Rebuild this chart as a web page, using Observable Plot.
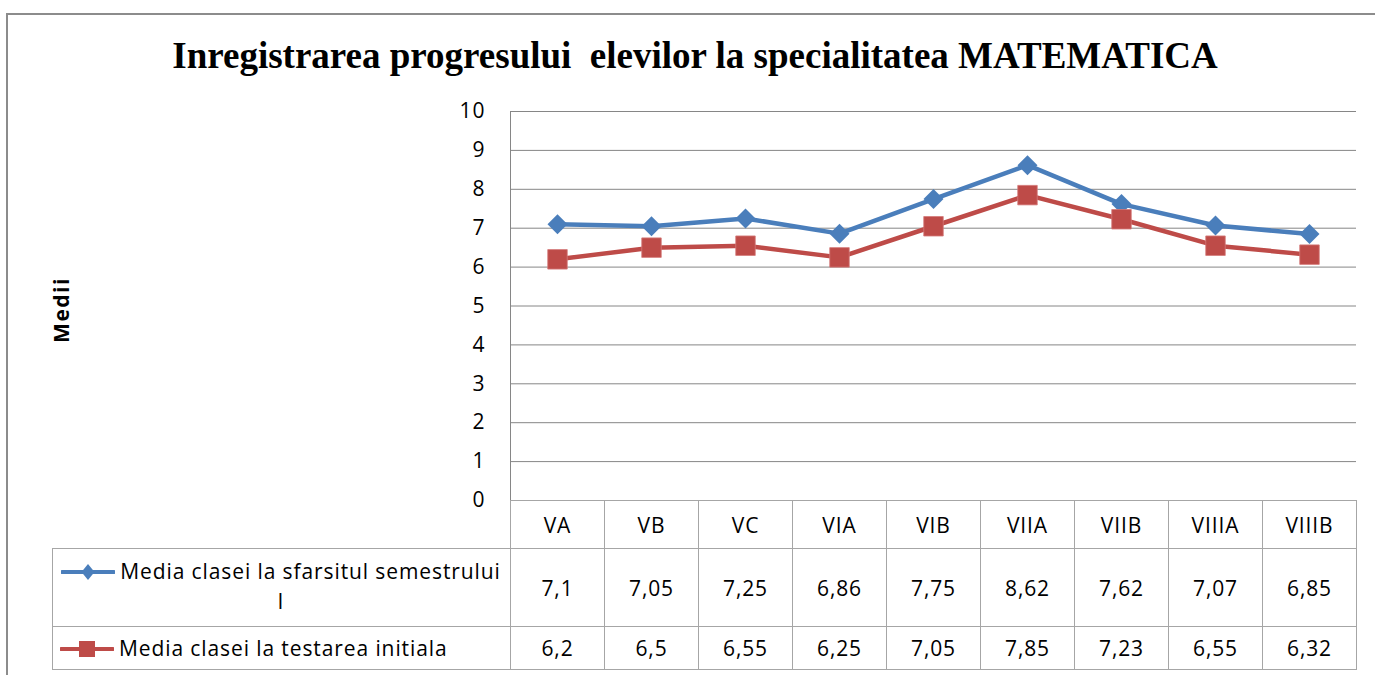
<!DOCTYPE html>
<html>
<head>
<meta charset="utf-8">
<script src="https://cdn.jsdelivr.net/npm/d3@7"></script>
<script src="https://cdn.jsdelivr.net/npm/@observablehq/plot@0.6"></script>
<style>
  html, body { margin: 0; padding: 0; background: #fff; }
  #wrap { position: relative; width: 1375px; height: 675px; overflow: hidden; background: #fff; font-family: "Open Sans", sans-serif; color: #000; }
  #frame { position: absolute; left: 6px; top: 13px; width: 1500px; height: 800px; border-left: 2px solid #8c8c8c; border-top: 2px solid #8c8c8c; }
  #title { position: absolute; left: 0; width: 1390px; top: 34px; text-align: center; font-family: "Liberation Serif", "Times New Roman", serif; font-weight: bold; font-size: 37px; line-height: 44px; white-space: pre; }
  #ylabel { position: absolute; left: 61px; top: 310px; transform: translate(-50%, -50%) rotate(-90deg); font-weight: bold; font-size: 21px; letter-spacing: 1.5px; white-space: nowrap; }
  #plot { position: absolute; left: 0; top: 0; }
  .cell { position: absolute; box-sizing: border-box; border: 1px solid #a6a6a6; display: flex; align-items: center; justify-content: center; font-size: 21px; letter-spacing: 0.9px; line-height: 24px; }
  .legcell { justify-content: flex-start; padding-left: 7px; }
  .legcell.wrap { justify-content: center; text-align: center; line-height: 30px; padding-left: 7px; padding-right: 8px; padding-bottom: 3px; }
  .legcell svg { vertical-align: -3px; margin-right: 5px; }
</style>
</head>
<body>
<div id="wrap">
  <div id="frame"></div>
  <div id="title"></div>
  <div id="ylabel"></div>
  <div id="plot"></div>
</div>
<script>
// ---- data ----
const titleText = "Inregistrarea progresului  elevilor la specialitatea MATEMATICA";
const yLabel = "Medii";
const categories = ["VA", "VB", "VC", "VIA", "VIB", "VIIA", "VIIB", "VIIIA", "VIIIB"];
const seriesNames = ["Media clasei la sfarsitul semestrului I", "Media clasei la testarea initiala"];
const mediaSemestru = [7.1, 7.05, 7.25, 6.86, 7.75, 8.62, 7.62, 7.07, 6.85];
const mediaInitiala = [6.2, 6.5, 6.55, 6.25, 7.05, 7.85, 7.23, 6.55, 6.32];
const yTicks = [0, 1, 2, 3, 4, 5, 6, 7, 8, 9, 10];

const seriesColors = ["#4a7ebb", "#be4b48"];
const seriesValues = [mediaSemestru, mediaInitiala];
const rows = seriesValues.map((vals, s) => categories.map((c, i) => ({cat: c, value: vals[i], serie: seriesNames[s]})));

document.getElementById("title").textContent = titleText;
document.getElementById("ylabel").textContent = yLabel;

const plot = Plot.plot({
  width: 1375,
  height: 502,
  marginTop: 111,
  marginBottom: 2,
  marginLeft: 510,
  marginRight: 19,
  style: {fontFamily: "'Open Sans', sans-serif", fontSize: "21px", letterSpacing: "1px", color: "#000", background: "transparent", overflow: "visible"},
  x: {type: "point", domain: categories, padding: 0.5, axis: null},
  y: {domain: [0, 10], axis: null},
  marks: [
    Plot.gridY(yTicks, {stroke: "#868686", strokeOpacity: 1, strokeWidth: 1}),
    Plot.frame({anchor: "left", stroke: "#868686"}),
    Plot.axisY(yTicks, {tickSize: 0, tickPadding: 25, tickFormat: d => String(d), label: null, fill: "#000"}),
    Plot.line(rows[0], {x: "cat", y: "value", stroke: seriesColors[0], strokeWidth: 4.5}),
    Plot.line(rows[1], {x: "cat", y: "value", stroke: seriesColors[1], strokeWidth: 4.5}),
    Plot.dot(rows[0], {x: "cat", y: "value", symbol: "diamond2", r: 9, fill: seriesColors[0], stroke: "none"}),
    Plot.dot(rows[1], {x: "cat", y: "value", symbol: "square", r: 11, fill: seriesColors[1], stroke: "#d47a78", strokeWidth: 0.8})
  ]
});
document.getElementById("plot").appendChild(plot);

// ---- data table built from the plot's own x scale ----
const xs = plot.scale("x");
const step = xs.step;
const wrap = document.getElementById("wrap");
const tableLeft = 52;
const rowTops = [500, 548, 626, 669];

function cell(x0, x1, y0, y1, cls) {
  const d = document.createElement("div");
  d.className = "cell" + (cls ? " " + cls : "");
  d.style.left = x0 + "px";
  d.style.top = y0 + "px";
  d.style.width = (x1 - x0 + 1) + "px";
  d.style.height = (y1 - y0 + 1) + "px";
  wrap.appendChild(d);
  return d;
}

function legendSymbol(color, shape) {
  const svg = d3.create("svg").attr("width", 54).attr("height", 20);
  svg.append("line").attr("x1", 1).attr("x2", 53).attr("y1", 10).attr("y2", 10)
    .attr("stroke", color).attr("stroke-width", 4).attr("stroke-linecap", "round");
  if (shape === "diamond") {
    svg.append("path").attr("d", "M27,2 L33.5,10 L27,18 L20.5,10 Z").attr("fill", color);
  } else {
    svg.append("rect").attr("x", 19).attr("y", 2).attr("width", 16).attr("height", 16).attr("fill", color);
  }
  return svg.node();
}

categories.forEach((c, i) => {
  const cx = xs.apply(c);
  const x0 = Math.round(cx - step / 2), x1 = Math.round(cx + step / 2);
  cell(x0, x1, rowTops[0], rowTops[1]).textContent = c;
  seriesValues.forEach((vals, s) => {
    cell(x0, x1, rowTops[s + 1], rowTops[s + 2]).textContent = String(vals[i]).replace(".", ",");
  });
});

const axisLeft = Math.round(xs.apply(categories[0]) - step / 2);
seriesNames.forEach((name, s) => {
  const d = cell(tableLeft, axisLeft, rowTops[s + 1], rowTops[s + 2], "legcell" + (s === 0 ? " wrap" : ""));
  const inner = document.createElement("div");
  inner.appendChild(legendSymbol(seriesColors[s], s === 0 ? "diamond" : "square"));
  inner.appendChild(document.createTextNode(name));
  d.appendChild(inner);
});
</script>
</body>
</html>
